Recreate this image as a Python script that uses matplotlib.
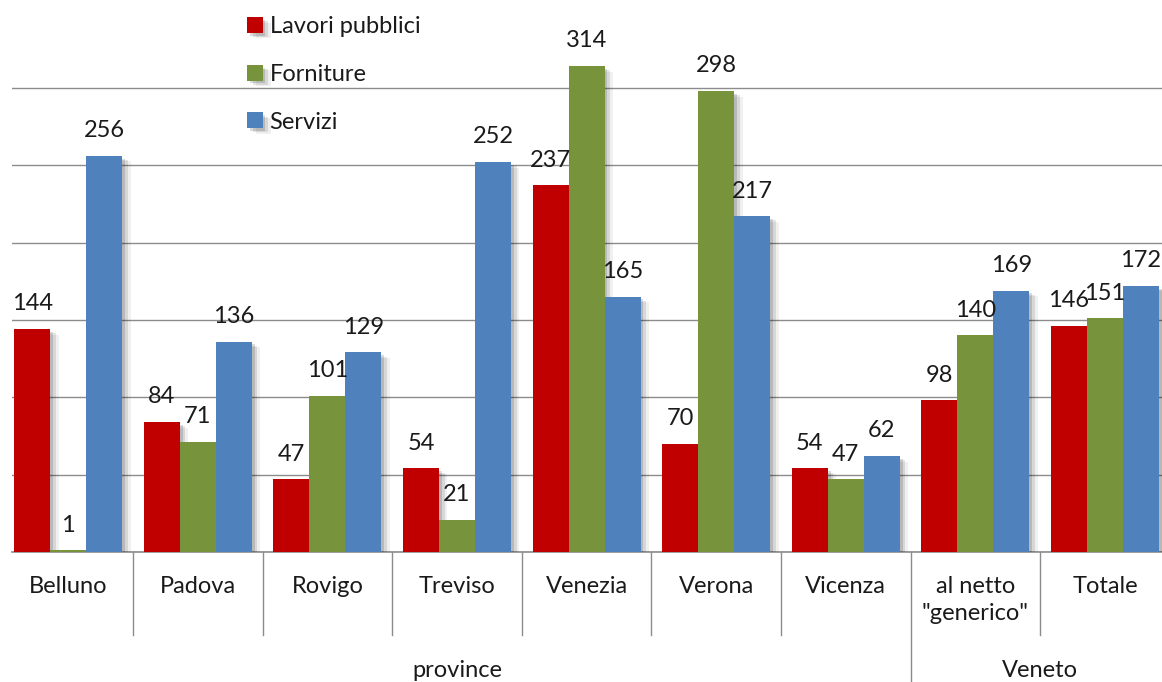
import numpy as np
import matplotlib.pyplot as plt
import matplotlib.patheffects as pe
from matplotlib import transforms

# data
categories = ['Belluno', 'Padova', 'Rovigo', 'Treviso', 'Venezia', 'Verona',
              'Vicenza', 'al netto\n"generico"', 'Totale']
lavori = [144, 84, 47, 54, 237, 70, 54, 98, 146]
forniture = [1, 71, 101, 21, 314, 298, 47, 140, 151]
servizi = [256, 136, 129, 252, 165, 217, 62, 169, 172]
series_names = ['Lavori pubblici', 'Forniture', 'Servizi']
groups = [('province', 0, 6), ('Veneto', 7, 8)]

colors = ['#C00000', '#77933C', '#4F81BD']
grid_color = '#8C8C8C'
text_color = '#1A1A1A'

plt.rcParams['font.family'] = ['Lato', 'DejaVu Sans']
fs = 17

W, H = 1162, 682
fig = plt.figure(figsize=(W / 100, H / 100), dpi=100)

# axes: left at px 12, right at figure edge, bottom (0) at px 552, top at px 10
ax = fig.add_axes([12 / W, 1 - 552 / H, 1 - 12 / W, 541.5 / H])
ax.set_xlim(-0.434, 8.44)
ax.set_ylim(0, 350)

x = np.arange(len(categories))
bw = 0.278
shadow = [pe.SimplePatchShadow(offset=(2, -2), shadow_rgbFace='#000000', alpha=0.14),
          pe.SimplePatchShadow(offset=(4, -3), shadow_rgbFace='#000000', alpha=0.10),
          pe.SimplePatchShadow(offset=(6, -4), shadow_rgbFace='#000000', alpha=0.06),
          pe.Normal()]

for i, (vals, name, col) in enumerate(zip([lavori, forniture, servizi], series_names, colors)):
    pos = x + (i - 1) * bw
    bars = ax.bar(pos, vals, width=bw, color=col, label=name, zorder=3)
    for b in bars:
        b.set_path_effects(shadow)
    for p, v in zip(pos, vals):
        ax.annotate(str(v), xy=(p, v), xytext=(0, 13.5), textcoords='offset points',
                    ha='center', va='baseline', fontsize=fs, color=text_color, zorder=5)

# grid and axis line
ax.set_yticks(np.arange(0, 301, 50))
ax.yaxis.grid(True, color=grid_color, linewidth=1)
ax.set_axisbelow(True)
for s in ['top', 'right', 'left']:
    ax.spines[s].set_visible(False)
ax.spines['bottom'].set_color(grid_color)
ax.spines['bottom'].set_linewidth(1.2)
ax.tick_params(left=False, labelleft=False, bottom=False, labelbottom=False)

# category labels
for xi, lab in zip(x, categories):
    ax.annotate(lab, xy=(xi, 0), xycoords=('data', 'axes fraction'),
                xytext=(0, -17), textcoords='offset points', ha='center', va='top',
                fontsize=fs, color=text_color, linespacing=1.35)

# separators between categories
trans = transforms.blended_transform_factory(ax.transData, ax.transAxes)
group_bounds = [g[2] + 0.5 for g in groups[:-1]]
for b in np.arange(0.5, len(categories) - 0.5, 1.0):
    y0 = -130 / 541.5 if b in group_bounds else -83 / 541.5
    ax.plot([b, b], [0, y0], transform=trans, color=grid_color, linewidth=1, clip_on=False)

# group labels
for name, a, b in groups:
    ax.annotate(name, xy=((a + b) / 2, 0), xycoords=('data', 'axes fraction'),
                xytext=(0, -78), textcoords='offset points', ha='center', va='top',
                fontsize=fs, color=text_color)

# legend
ax.legend(loc='upper left', bbox_to_anchor=(226 / W, 1 + 5 / H), bbox_transform=fig.transFigure,
          frameon=False, fontsize=fs, handlelength=0.65, handleheight=0.65,
          handletextpad=0.3, labelspacing=1.13, labelcolor=text_color)

fig.savefig('out.png', dpi=100)
